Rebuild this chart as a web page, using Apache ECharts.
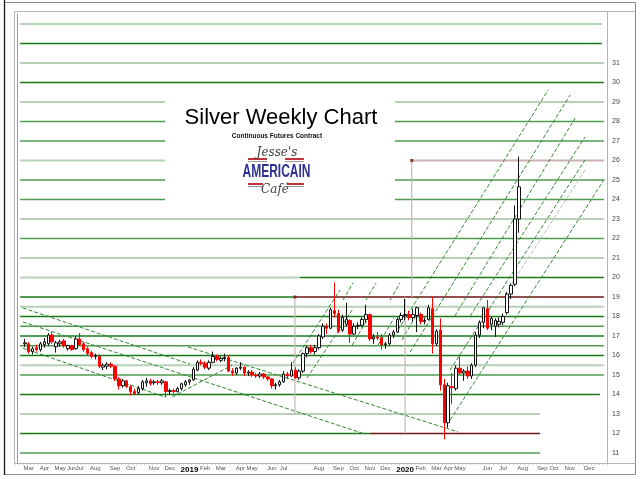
<!DOCTYPE html>
<html><head><meta charset="utf-8">
<script src="https://cdn.jsdelivr.net/npm/echarts@6/dist/echarts.min.js"></script>
<style>html,body{margin:0;padding:0;background:#fff}#c{width:640px;height:479px}</style>
</head><body><div id="c"></div>
<script>
// ---- weekly axis ----
const weekStart = '2018-02-12';
const weekCount = 151;
const firstCandle = 2; // index of first candle (week of 2018-02-26)

// ---- weekly OHLC (silver, continuous futures) ----
const opens = [16.60,16.60,16.20,16.40,16.30,16.55,16.60,17.05,16.45,16.60,
16.75,16.35,16.50,16.35,16.85,16.60,16.35,16.15,15.95,15.95,
15.40,15.45,15.55,15.45,14.80,14.45,14.70,14.40,14.15,14.10,
14.30,14.60,14.70,14.60,14.65,14.60,14.65,14.15,14.20,14.15,
14.30,14.50,14.65,14.75,15.25,15.65,15.60,15.35,15.65,15.95,
15.75,15.85,15.90,15.20,15.10,15.35,15.40,15.10,15.15,15.00,
14.95,15.05,14.90,14.80,14.45,14.50,14.65,15.05,14.95,15.25,
14.85,15.20,16.10,16.40,16.20,16.40,16.95,17.50,17.40,18.30,
18.15,17.30,17.60,17.80,17.10,17.50,17.55,17.85,18.10,16.85,
16.95,16.90,16.55,16.60,17.05,17.20,17.85,18.05,18.10,17.95,
18.05,18.10,17.75,17.85,18.40,16.60,17.30,14.50,12.55,14.40,
14.30,15.35,15.10,15.20,14.95,15.50,17.05,17.70,18.40,17.60,
17.50,17.60,17.70,18.20,19.15,19.65,23.00];
const closes = [16.65,16.20,16.35,16.30,16.60,16.70,17.05,16.70,16.65,16.70,
16.50,16.50,16.30,16.85,16.55,16.30,16.10,15.95,16.00,15.45,
15.50,15.55,15.45,14.80,14.45,14.70,14.40,14.15,14.05,14.30,
14.65,14.70,14.55,14.65,14.62,14.70,14.15,14.20,14.15,14.30,
14.55,14.65,14.75,15.30,15.65,15.60,15.40,15.65,15.95,15.80,
15.85,15.90,15.20,15.10,15.35,15.40,15.10,15.15,15.00,14.95,
15.05,14.90,14.80,14.45,14.50,14.65,15.05,14.95,15.25,14.85,
15.20,16.10,16.40,16.20,16.40,17.00,17.50,17.40,18.35,18.15,
17.25,17.95,17.85,17.10,17.50,17.55,17.85,18.10,16.85,16.95,
16.90,16.55,16.60,17.05,17.20,17.85,18.05,18.10,17.95,18.10,
18.45,17.75,17.80,18.45,16.60,17.25,14.50,12.55,14.45,14.35,
15.35,15.10,15.20,14.95,15.50,17.05,17.70,18.45,17.40,17.90,
17.80,17.75,18.00,19.15,19.60,23.00,24.65];
const lows = [16.45,16.10,16.05,16.20,16.20,16.40,16.50,16.60,16.15,16.45,
16.40,16.25,16.25,16.30,16.50,16.20,16.00,15.85,15.80,15.35,
15.25,15.30,15.35,14.70,14.25,14.35,14.35,13.95,14.00,14.00,
14.20,14.40,14.45,14.50,14.50,14.50,13.85,14.00,14.05,14.10,
14.20,14.40,14.50,14.70,15.20,15.50,15.30,15.25,15.60,15.70,
15.65,15.70,15.15,14.95,15.00,15.25,14.95,14.95,14.90,14.85,
14.85,14.80,14.70,14.30,14.25,14.40,14.60,14.80,14.90,14.80,
14.75,15.10,15.90,16.10,16.05,16.30,16.85,17.10,17.35,17.95,
17.15,17.20,17.50,16.65,17.05,17.35,17.45,17.70,16.75,16.60,
16.80,16.30,16.35,16.50,16.90,17.15,17.70,17.80,17.80,17.75,
17.20,17.60,17.60,17.80,16.10,16.50,14.20,11.70,12.30,13.50,
14.20,15.00,14.70,14.80,14.80,15.40,16.90,17.40,17.30,17.30,
16.95,17.45,17.55,18.10,18.90,19.55,22.30];
const highs = [16.85,16.70,16.45,16.55,16.70,16.90,17.15,17.20,16.75,16.80,
16.85,16.55,16.55,17.00,17.15,16.70,16.45,16.25,16.10,16.05,
15.60,15.65,15.65,15.50,14.90,14.80,14.75,14.50,14.30,14.45,
14.75,14.85,14.80,14.75,14.75,14.80,14.70,14.30,14.30,14.40,
14.60,14.75,14.80,15.40,15.75,15.80,15.70,15.75,16.20,16.05,
15.95,16.10,16.00,15.35,15.40,15.65,15.45,15.25,15.25,15.10,
15.15,15.10,14.95,14.85,14.60,14.75,15.20,15.15,15.65,15.40,
15.30,16.15,16.50,16.55,16.55,17.10,17.65,17.65,18.45,19.75,
18.35,18.10,18.70,17.85,17.65,17.70,17.95,18.60,18.15,17.10,
17.20,17.10,16.70,17.15,17.30,17.95,18.20,18.90,18.30,18.40,
18.50,18.20,17.95,18.60,19.00,17.35,17.90,14.80,14.60,15.10,
15.50,15.95,15.30,15.45,15.60,17.20,17.80,18.50,18.85,18.00,
17.90,17.95,18.15,19.25,19.70,23.70,26.20];

// ---- axis tick labels ----
const tickIdx = [3,7,11,14,16,20,25,29,35,39,44,48,52,57,60,65,68,77,82,86,90,94,99,103,107,110,113,120,124,129,134,137,141,146];
const tickText = ['Mar','Apr','May','Jun','Jul','Aug','Sep','Oct','Nov','Dec','2019','Feb','Mar','Apr','May','Jun','Jul','Aug','Sep','Oct','Nov','Dec','2020','Feb','Mar','Apr','May','Jun','Jul','Aug','Sep','Oct','Nov','Dec'];
const yTicks = [11,12,13,14,15,16,17,18,19,20,21,22,23,24,25,26,27,28,29,30,31];

// ---- horizontal support/resistance levels (price, from week, to week) ----
const hLevel = [33,32,31,30,29,29,28,28,27,27,26,26,25,25,24,24,23,22,21,20,20,19,19,18.5,18,17.5,17,16.5,16,15.5,15,14,13,12,12,11];
const hFrom = [0.8,0.8,0.8,0.8,0.8,96.4,0.8,96.4,0.8,96.4,0.8,100.7,0.8,96.4,0.8,96.4,0.8,0.8,0.8,0.8,72.2,0.8,70.9,0.8,0.8,0.8,0.8,0.8,0.8,0.8,0.8,0.8,0.8,0.8,90.1,0.8];
const hTo = [149.2,149.2,149.7,149.7,37.8,149.7,37.8,149.7,37.8,149.7,37.8,149.7,37.8,149.7,37.8,149.7,149.7,149.7,149.7,72.2,149.7,70.9,149.7,149.7,149.7,149.7,149.7,149.7,149.7,149.7,149.7,148.7,133.4,90.1,133.4,133.4];
const hTone = ['light','dark','light','dark','light','light','mid','mid','mid','mid','light','rose','mid','mid','mid','mid','light','mid','light','light','dark','dark','maroon','light','dark','mid','dark','mid','dark','light','mid','dark','light','dark','maroon','mid'];

// ---- trend channel lines (week, price) -> (week, price) ----
const dX0 = [1.5,1.5,1.5,43.6,39.6,70.4,74.0,83.2,89.0,95.2,85.5,92.1,98.2,97.2,100.3,111.7,115.6,124.5,110.5,110.5];
const dY0 = [18.44,17.72,16.38,16.44,13.87,15.62,14.85,18.85,18.85,18.85,16.54,16.54,16.79,17.31,16.18,18.03,18.03,19.15,15.26,12.69];
const dX1 = [44.1,88.8,37.8,112.5,54.9,82.4,85.5,85.7,91.6,97.7,89.6,96.2,102.3,135.5,141.1,142.4,144.9,144.9,144.9,150.0];
const dY1 = [15.56,11.97,13.87,12.08,15.51,19.36,18.33,19.72,19.72,19.72,17.92,17.92,18.23,29.62,29.36,28.18,27.21,25.51,26.03,25.10];
const dTone = ['g','g','g','g','g','g','g','g','g','g','g','g','g','g','g','g','g','pale','g','g'];

// ---- vertical measuring lines and markers ----
const vX = [70.9,100.7,99.0];
const vTop = [19,26,19];
const vBottom = [12.95,19,12];
const markX = [70.9,100.7];
const markY = [19,26];

// ================= build =================
const DAY = 86400000;
const t0 = Date.parse(weekStart + 'T00:00:00Z');
const categories = [];
for (let i = 0; i < weekCount; i++) categories.push(new Date(t0 + i * 7 * DAY).toISOString().slice(0, 10));
const candles = opens.map((o, k) => [categories[firstCandle + k], o, closes[k], lows[k], highs[k]]);
const tickMap = {};
tickIdx.forEach((ix, k) => { tickMap[ix] = tickText[k]; });

const toneColor = {dark:'#187a18', mid:'#4f9b4f', light:'#b7d1b7', maroon:'#6e1414', rose:'#cdb0b0'};
const toneWidth = {dark:1.5, mid:1.5, light:2, maroon:1.5, rose:2};
const series = [];
hLevel.forEach((v, k) => {
  series.push({type:'line', xAxisIndex:1, yAxisIndex:0, silent:true, symbol:'none', z:2,
    data:[[hFrom[k], v],[hTo[k], v]],
    lineStyle:{color:toneColor[hTone[k]], width:toneWidth[hTone[k]]}});
});
dX0.forEach((x, k) => {
  series.push({type:'line', xAxisIndex:1, yAxisIndex:0, silent:true, symbol:'none', z:3,
    data:[[x, dY0[k]],[dX1[k], dY1[k]]],
    lineStyle:{color: dTone[k] === 'pale' ? '#bcbcbc' : '#2f8a2f', width:1, type:[4,2]}});
});
vX.forEach((x, k) => {
  series.push({type:'line', xAxisIndex:1, yAxisIndex:0, silent:true, symbol:'none', z:3,
    data:[[x, vTop[k]],[x, vBottom[k]]],
    lineStyle:{color:'#c9b4b4', width:1.2}});
});
series.push({type:'scatter', xAxisIndex:1, yAxisIndex:0, silent:true, symbol:'rect', symbolSize:3, z:6,
  data: markX.map((x, k) => [x, markY[k]]), itemStyle:{color:'#7a1010'}});
series.push({type:'candlestick', xAxisIndex:0, yAxisIndex:0, z:5, barWidth:3,
  data: candles, encode:{x:0, y:[1,2,3,4]},
  itemStyle:{color:'#ffffff', color0:'#ff0000', borderColor:'#111111', borderColor0:'#ff0000', borderWidth:1}});

const chart = echarts.init(document.getElementById('c'), null, {renderer:'canvas'});
chart.setOption({
  animation:false,
  backgroundColor:'#ffffff',
  grid:{left:15, right:33, top:14.25, bottom:16.25, containLabel:false, show:false},
  xAxis:[
    {type:'category', data:categories, boundaryGap:true,
     axisLine:{show:true, lineStyle:{color:'#9a9a9a', width:1}},
     axisTick:{show:true, interval:0, length:2, lineStyle:{color:'#c4c4c4'}},
     splitLine:{show:false},
     axisLabel:{interval:(i) => tickMap[i] !== undefined, hideOverlap:false, margin:3,
       fontSize:6, color:'#555', fontFamily:'Liberation Sans',
       formatter:(v, i) => { const t = tickMap[i] || ''; return /^\d{4}$/.test(t) ? '{y|' + t + '}' : t; },
       rich:{y:{fontSize:8, fontWeight:'bold', color:'#000', fontFamily:'Liberation Sans'}}}},
    {type:'value', min:-0.5, max:weekCount - 0.5, show:false}
  ],
  yAxis:[{type:'value', position:'right', min:10.5, max:33.5,
    axisLine:{show:true, lineStyle:{color:'#9a9a9a'}}, axisTick:{show:false}, splitLine:{show:false},
    axisLabel:{customValues:yTicks, fontSize:7, color:'#444', margin:5, fontFamily:'Liberation Sans'}}],
  series: series,
  graphic:[
    {type:'rect', silent:true, z:100, shape:{x:4.5, y:2.5, width:631, height:472}, style:{fill:null, stroke:'#8c8c8c', lineWidth:1}},
    {type:'line', silent:true, z:100, shape:{x1:4.5, y1:0, x2:4.5, y2:475}, style:{stroke:'#1a1a1a', lineWidth:1.3}},
    {type:'rect', silent:true, z:100, shape:{x:14.5, y:11.5, width:593, height:452}, style:{fill:null, stroke:'#b4b4b4', lineWidth:1}},
    {type:'line', silent:true, z:100, shape:{x1:607.5, y1:11.5, x2:635.5, y2:11.5}, style:{stroke:'#b4b4b4'}},
    {type:'line', silent:true, z:100, shape:{x1:607.5, y1:463.5, x2:635.5, y2:463.5}, style:{stroke:'#b4b4b4'}},
    {type:'text', silent:true, z:100, x:281, y:118, style:{text:'Silver Weekly Chart', fill:'#000', font:'22px "Liberation Sans", Arial, sans-serif', align:'center', verticalAlign:'middle'}},
    {type:'text', silent:true, z:100, x:277, y:136, style:{text:'Continuous Futures Contract', fill:'#111', font:'bold 6.5px "Liberation Sans", Arial, sans-serif', align:'center', verticalAlign:'middle'}},
    {type:'rect', silent:true, z:100, shape:{x:248, y:158, width:19, height:2}, style:{fill:'#c4323c'}},
    {type:'rect', silent:true, z:100, shape:{x:285, y:158, width:19, height:2}, style:{fill:'#c4323c'}},
    {type:'rect', silent:true, z:100, shape:{x:248, y:161, width:19, height:1}, style:{fill:'#999'}},
    {type:'rect', silent:true, z:100, shape:{x:285, y:161, width:19, height:1}, style:{fill:'#999'}},
    {type:'rect', silent:true, z:100, shape:{x:248, y:183, width:15, height:2}, style:{fill:'#c4323c'}},
    {type:'rect', silent:true, z:100, shape:{x:287, y:183, width:17, height:2}, style:{fill:'#c4323c'}},
    {type:'rect', silent:true, z:100, shape:{x:248, y:186, width:15, height:1}, style:{fill:'#999'}},
    {type:'rect', silent:true, z:100, shape:{x:287, y:186, width:17, height:1}, style:{fill:'#999'}},
    {type:'text', silent:true, z:100, x:277, y:153, style:{text:"Jesse's", fill:'#444', font:'italic 12px "DejaVu Serif", serif', align:'center', verticalAlign:'middle'}},
    {type:'text', silent:true, z:100, x:276.5, y:171.5, scaleY:1.6, style:{text:'AMERICAIN', fill:'#2e3192', font:'bold 12px "Liberation Sans Narrow", "Liberation Sans", sans-serif', align:'center', verticalAlign:'middle'}},
    {type:'text', silent:true, z:100, x:275, y:190, style:{text:'Café', fill:'#444', font:'italic 12px "DejaVu Serif", serif', align:'center', verticalAlign:'middle'}}
  ]
});
</script>
</body></html>
